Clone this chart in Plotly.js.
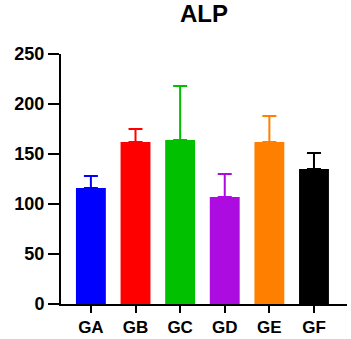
<!DOCTYPE html>
<html>
<head>
<meta charset="utf-8">
<script src="https://cdn.plot.ly/plotly-3.0.1.min.js"></script>
<style>html,body{margin:0;padding:0;background:#fff;}#chart{width:351px;height:339px;}</style>
</head>
<body>
<div id="chart"></div>
<script>
var categories = ["GA", "GB", "GC", "GD", "GE", "GF"];
var means = [116, 162, 164, 107, 162, 135];
var errorsPlus = [12, 13, 54, 23, 26, 16];
var colors = ["#0000FF", "#FF0000", "#00C000", "#AD0CE0", "#FF8000", "#000000"];
var yTicks = [0, 50, 100, 150, 200, 250];

var traces = categories.map(function (c, i) {
  return {
    type: "bar",
    x: [c],
    y: [means[i]],
    marker: { color: colors[i], line: { width: 0 } },
    error_y: {
      type: "data",
      array: [errorsPlus[i]],
      arrayminus: [0],
      symmetric: false,
      color: colors[i],
      thickness: 2,
      width: 7
    },
    showlegend: false,
    hoverinfo: "none"
  };
});

var fontFam = "Arial, 'Liberation Sans', sans-serif";
var layout = {
  width: 351,
  height: 339,
  margin: { l: 61, r: 4, t: 54, b: 35, pad: 0 },
  paper_bgcolor: "#ffffff",
  plot_bgcolor: "#ffffff",
  barmode: "overlay",
  bargap: 0.33,
  title: {
    text: "<b>ALP</b>",
    font: { family: fontFam, size: 24, color: "#000" },
    xref: "paper", x: 0.5, xanchor: "center",
    yref: "container", y: 1 - 14 / 339, yanchor: "middle"
  },
  xaxis: {
    type: "category",
    categoryorder: "array",
    categoryarray: categories,
    range: [-0.67, 5.74],
    showline: true, linecolor: "#000", linewidth: 2,
    ticks: "outside", ticklen: 7, tickwidth: 2, tickcolor: "#000",
    showgrid: false, zeroline: false,
    tickfont: { family: fontFam, size: 17, color: "#000", weight: "bold" },
    fixedrange: true
  },
  yaxis: {
    range: [0, 250],
    tickvals: yTicks,
    ticktext: yTicks.map(String),
    showline: true, linecolor: "#000", linewidth: 2,
    ticks: "outside", ticklen: 11, tickwidth: 2, tickcolor: "#000",
    showgrid: false, zeroline: false,
    tickfont: { family: fontFam, size: 18, color: "#000", weight: "bold" },
    fixedrange: true
  }
};

Plotly.newPlot("chart", traces, layout, { staticPlot: true, displayModeBar: false });
</script>
</body>
</html>
